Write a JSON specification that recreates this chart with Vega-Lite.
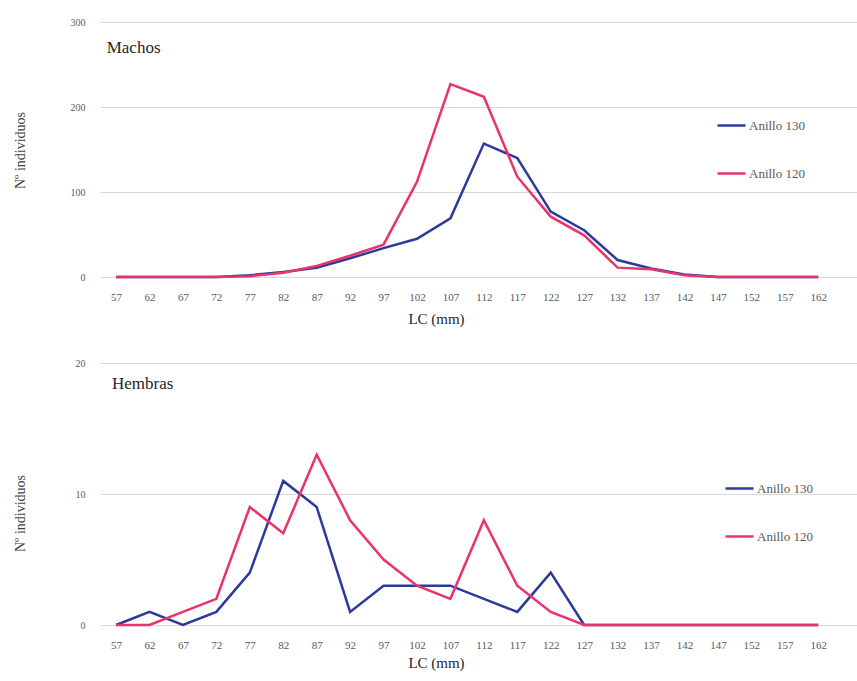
{
  "$schema": "https://vega.github.io/schema/vega-lite/v6.json",
  "padding": {"top": 17, "left": 12, "right": 0, "bottom": 5},
  "background": "white",
  "config": {
    "font": "Liberation Serif",
    "view": {"stroke": null},
    "axis": {"labelFont": "Liberation Serif", "titleFont": "Liberation Serif", "labelColor": "#595959", "titleColor": "#404040", "titleFontWeight": "normal", "ticks": false, "domain": false, "labelOverlap": false},
    "legend": {"labelFont": "Liberation Serif", "labelColor": "#595959"}
  },
  "datasets": {
    "machos": [
      {"LC": 57, "serie": "Anillo 130", "n": 0}, {"LC": 62, "serie": "Anillo 130", "n": 0}, {"LC": 67, "serie": "Anillo 130", "n": 0}, {"LC": 72, "serie": "Anillo 130", "n": 0},
      {"LC": 77, "serie": "Anillo 130", "n": 2}, {"LC": 82, "serie": "Anillo 130", "n": 6}, {"LC": 87, "serie": "Anillo 130", "n": 11}, {"LC": 92, "serie": "Anillo 130", "n": 22},
      {"LC": 97, "serie": "Anillo 130", "n": 34}, {"LC": 102, "serie": "Anillo 130", "n": 45}, {"LC": 107, "serie": "Anillo 130", "n": 69}, {"LC": 112, "serie": "Anillo 130", "n": 157},
      {"LC": 117, "serie": "Anillo 130", "n": 140}, {"LC": 122, "serie": "Anillo 130", "n": 77}, {"LC": 127, "serie": "Anillo 130", "n": 55}, {"LC": 132, "serie": "Anillo 130", "n": 20},
      {"LC": 137, "serie": "Anillo 130", "n": 10}, {"LC": 142, "serie": "Anillo 130", "n": 3}, {"LC": 147, "serie": "Anillo 130", "n": 0}, {"LC": 152, "serie": "Anillo 130", "n": 0},
      {"LC": 157, "serie": "Anillo 130", "n": 0}, {"LC": 162, "serie": "Anillo 130", "n": 0},
      {"LC": 57, "serie": "Anillo 120", "n": 0}, {"LC": 62, "serie": "Anillo 120", "n": 0}, {"LC": 67, "serie": "Anillo 120", "n": 0}, {"LC": 72, "serie": "Anillo 120", "n": 0},
      {"LC": 77, "serie": "Anillo 120", "n": 1}, {"LC": 82, "serie": "Anillo 120", "n": 5}, {"LC": 87, "serie": "Anillo 120", "n": 13}, {"LC": 92, "serie": "Anillo 120", "n": 25},
      {"LC": 97, "serie": "Anillo 120", "n": 38}, {"LC": 102, "serie": "Anillo 120", "n": 112}, {"LC": 107, "serie": "Anillo 120", "n": 227}, {"LC": 112, "serie": "Anillo 120", "n": 212},
      {"LC": 117, "serie": "Anillo 120", "n": 118}, {"LC": 122, "serie": "Anillo 120", "n": 71}, {"LC": 127, "serie": "Anillo 120", "n": 49}, {"LC": 132, "serie": "Anillo 120", "n": 11},
      {"LC": 137, "serie": "Anillo 120", "n": 9}, {"LC": 142, "serie": "Anillo 120", "n": 2}, {"LC": 147, "serie": "Anillo 120", "n": 0}, {"LC": 152, "serie": "Anillo 120", "n": 0},
      {"LC": 157, "serie": "Anillo 120", "n": 0}, {"LC": 162, "serie": "Anillo 120", "n": 0}
    ],
    "hembras": [
      {"LC": 57, "serie": "Anillo 130", "n": 0}, {"LC": 62, "serie": "Anillo 130", "n": 1}, {"LC": 67, "serie": "Anillo 130", "n": 0}, {"LC": 72, "serie": "Anillo 130", "n": 1},
      {"LC": 77, "serie": "Anillo 130", "n": 4}, {"LC": 82, "serie": "Anillo 130", "n": 11}, {"LC": 87, "serie": "Anillo 130", "n": 9}, {"LC": 92, "serie": "Anillo 130", "n": 1},
      {"LC": 97, "serie": "Anillo 130", "n": 3}, {"LC": 102, "serie": "Anillo 130", "n": 3}, {"LC": 107, "serie": "Anillo 130", "n": 3}, {"LC": 112, "serie": "Anillo 130", "n": 2},
      {"LC": 117, "serie": "Anillo 130", "n": 1}, {"LC": 122, "serie": "Anillo 130", "n": 4}, {"LC": 127, "serie": "Anillo 130", "n": 0}, {"LC": 132, "serie": "Anillo 130", "n": 0},
      {"LC": 137, "serie": "Anillo 130", "n": 0}, {"LC": 142, "serie": "Anillo 130", "n": 0}, {"LC": 147, "serie": "Anillo 130", "n": 0}, {"LC": 152, "serie": "Anillo 130", "n": 0},
      {"LC": 157, "serie": "Anillo 130", "n": 0}, {"LC": 162, "serie": "Anillo 130", "n": 0},
      {"LC": 57, "serie": "Anillo 120", "n": 0}, {"LC": 62, "serie": "Anillo 120", "n": 0}, {"LC": 67, "serie": "Anillo 120", "n": 1}, {"LC": 72, "serie": "Anillo 120", "n": 2},
      {"LC": 77, "serie": "Anillo 120", "n": 9}, {"LC": 82, "serie": "Anillo 120", "n": 7}, {"LC": 87, "serie": "Anillo 120", "n": 13}, {"LC": 92, "serie": "Anillo 120", "n": 8},
      {"LC": 97, "serie": "Anillo 120", "n": 5}, {"LC": 102, "serie": "Anillo 120", "n": 3}, {"LC": 107, "serie": "Anillo 120", "n": 2}, {"LC": 112, "serie": "Anillo 120", "n": 8},
      {"LC": 117, "serie": "Anillo 120", "n": 3}, {"LC": 122, "serie": "Anillo 120", "n": 1}, {"LC": 127, "serie": "Anillo 120", "n": 0}, {"LC": 132, "serie": "Anillo 120", "n": 0},
      {"LC": 137, "serie": "Anillo 120", "n": 0}, {"LC": 142, "serie": "Anillo 120", "n": 0}, {"LC": 147, "serie": "Anillo 120", "n": 0}, {"LC": 152, "serie": "Anillo 120", "n": 0},
      {"LC": 157, "serie": "Anillo 120", "n": 0}, {"LC": 162, "serie": "Anillo 120", "n": 0}
    ]
  },
  "resolve": {"legend": {"color": "independent"}, "scale": {"color": "independent"}},
  "spacing": 32,
  "vconcat": [
    {
      "width": 757,
      "height": 255,
      "layer": [
        {
          "data": {"name": "machos"},
          "mark": {"type": "line", "strokeWidth": 2.5},
          "encoding": {
            "x": {"field": "LC", "type": "quantitative", "scale": {"domain": [54.6, 167.8], "nice": false, "zero": false},
              "axis": {"values": [57,62,67,72,77,82,87,92,97,102,107,112,117,122,127,132,137,142,147,152,157,162], "tickCount": 40, "labelOverlap": false, "grid": false, "labelFontSize": 11, "labelPadding": 14, "title": "LC (mm)", "titleFontSize": 15, "titleX": 336, "titleY": 34, "titleBaseline": "top", "titleColor": "#262626"}},
            "y": {"field": "n", "type": "quantitative", "scale": {"domain": [0, 300], "nice": false},
              "axis": {"values": [0, 100, 200, 300], "gridColor": "#d9d9d9", "gridWidth": 1, "labelFontSize": 10, "labelPadding": 15, "title": "Nº individuos", "titleFontSize": 14, "titleX": -80, "titleY": 128, "titleBaseline": "middle", "titleAngle": -90}},
            "color": {"field": "serie", "type": "nominal", "sort": null,
              "scale": {"domain": ["Anillo 130", "Anillo 120"], "range": ["#2b3a9b", "#e8336b"]},
              "legend": {"title": null, "orient": "none", "legendX": 616, "legendY": 88, "symbolType": "stroke", "symbolSize": 784, "symbolStrokeWidth": 2.5, "labelFontSize": 13, "labelOffset": 2, "rowPadding": 25}}
          }
        },
        {
          "data": {"values": [{"label": "Machos"}]},
          "mark": {"type": "text", "align": "left", "baseline": "middle", "fontSize": 17, "color": "#262626", "font": "Liberation Serif"},
          "encoding": {
            "x": {"datum": 55.6, "type": "quantitative"},
            "y": {"datum": 269, "type": "quantitative"},
            "text": {"field": "label"}
          }
        }
      ]
    },
    {
      "width": 757,
      "height": 262,
      "layer": [
        {
          "data": {"name": "hembras"},
          "mark": {"type": "line", "strokeWidth": 2.5},
          "encoding": {
            "x": {"field": "LC", "type": "quantitative", "scale": {"domain": [54.6, 167.8], "nice": false, "zero": false},
              "axis": {"values": [57,62,67,72,77,82,87,92,97,102,107,112,117,122,127,132,137,142,147,152,157,162], "tickCount": 40, "labelOverlap": false, "grid": false, "labelFontSize": 11, "labelPadding": 14, "title": "LC (mm)", "titleFontSize": 15, "titleX": 336, "titleY": 30, "titleBaseline": "top", "titleColor": "#262626"}},
            "y": {"field": "n", "type": "quantitative", "scale": {"domain": [0, 20], "nice": false},
              "axis": {"values": [0, 10, 20], "gridColor": "#d9d9d9", "gridWidth": 1, "labelFontSize": 10, "labelPadding": 15, "title": "Nº individuos", "titleFontSize": 14, "titleX": -80, "titleY": 150, "titleBaseline": "middle", "titleAngle": -90}},
            "color": {"field": "serie", "type": "nominal", "sort": null,
              "scale": {"domain": ["Anillo 130", "Anillo 120"], "range": ["#2b3a9b", "#e8336b"]},
              "legend": {"title": null, "orient": "none", "legendX": 624, "legendY": 110, "symbolType": "stroke", "symbolSize": 784, "symbolStrokeWidth": 2.5, "labelFontSize": 13, "labelOffset": 2, "rowPadding": 25}}
          }
        },
        {
          "data": {"values": [{"label": "Hembras"}]},
          "mark": {"type": "text", "align": "left", "baseline": "middle", "fontSize": 17, "color": "#262626", "font": "Liberation Serif"},
          "encoding": {
            "x": {"datum": 56.4, "type": "quantitative"},
            "y": {"datum": 18.4, "type": "quantitative"},
            "text": {"field": "label"}
          }
        }
      ]
    }
  ]
}
